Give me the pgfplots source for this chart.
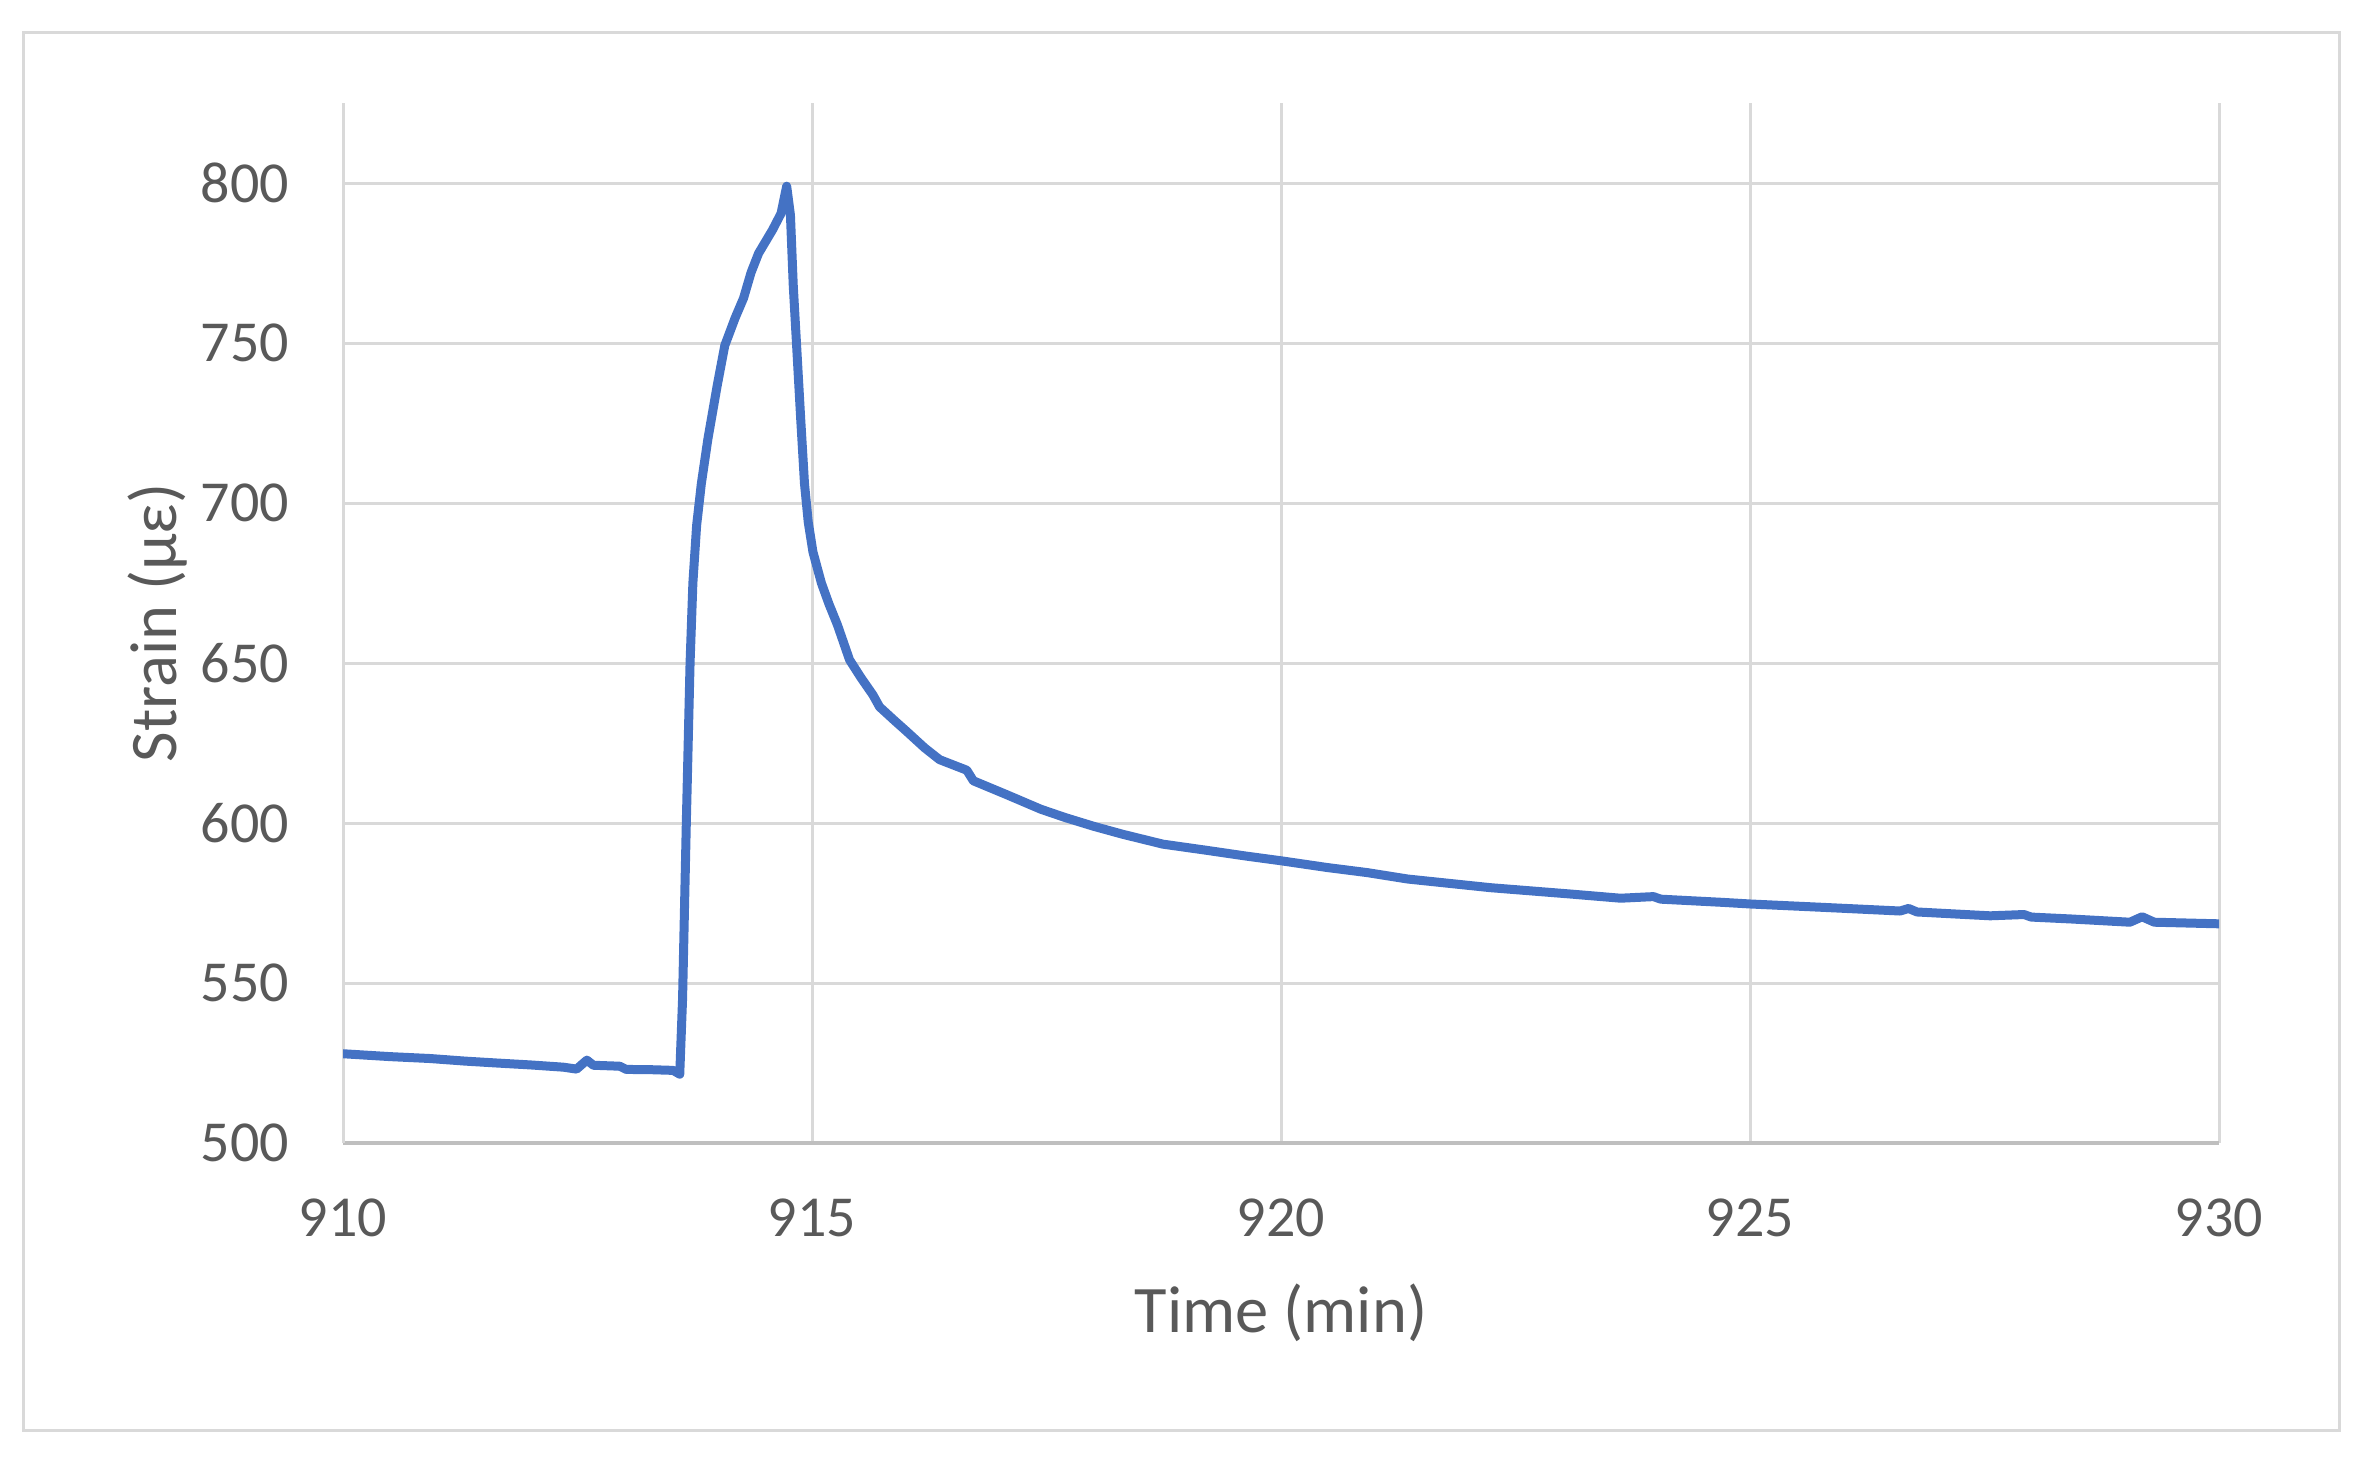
\documentclass[border=0pt]{standalone}
\usepackage{fontspec}
\setmainfont{Carlito}
\usepackage{pgfplots}
\pgfplotsset{compat=1.18}
\usepackage{pgfplotstable}
\definecolor{labelgray}{HTML}{595959}
\definecolor{gridgray}{HTML}{D9D9D9}
\definecolor{axisgray}{HTML}{BFBFBF}
\definecolor{linecol}{HTML}{4472C4}
\pgfplotstableread{
t s
910.00 527.9
910.50 527.0
910.93 526.4
911.30 525.6
911.64 525.0
912.00 524.4
912.35 523.7
912.49 523.1
912.60 525.9
912.67 524.3
912.95 524.0
913.02 523.0
913.30 522.9
913.52 522.7
913.59 521.5
913.62 545.0
913.66 600.0
913.70 650.0
913.73 675.0
913.77 693.0
913.82 706.0
913.89 720.0
913.99 736.8
914.07 749.2
914.18 757.8
914.27 764.0
914.35 772.0
914.43 778.0
914.58 785.4
914.67 790.5
914.73 799.0
914.77 790.0
914.80 768.0
914.84 747.0
914.88 726.0
914.92 706.0
914.96 694.0
915.01 684.7
915.10 675.0
915.18 668.5
915.27 662.0
915.40 651.0
915.52 645.5
915.65 640.0
915.72 636.3
915.88 632.0
916.01 628.6
916.20 623.5
916.36 619.8
916.65 616.5
916.72 613.2
917.08 608.8
917.44 604.3
917.70 601.7
918.00 599.0
918.31 596.5
918.74 593.4
919.20 591.5
919.62 589.7
920.00 588.2
920.49 586.1
920.92 584.5
921.35 582.5
922.23 579.8
923.09 577.8
923.62 576.5
923.97 577.0
924.05 576.2
924.71 575.2
925.00 574.7
925.81 573.6
926.60 572.5
926.69 573.3
926.78 572.2
927.56 571.0
927.92 571.4
928.00 570.6
928.43 570.0
929.05 569.0
929.18 570.7
929.31 569.0
930.00 568.5
}\straindata
\begin{document}
\begin{tikzpicture}
\useasboundingbox (0,0) rectangle (472.6pt,292.6pt);
\draw[gridgray, line width=0.6pt] (4.6pt,6.6pt) rectangle (467.8pt,286pt);
\begin{axis}[
  at={(68.6pt,64pt)}, anchor=south west,
  scale only axis, width=375.2pt, height=208pt,
  xmin=910, xmax=930, ymin=500, ymax=825,
  xtick={910,915,920,925,930},
  ytick={500,550,600,650,700,750,800},
  axis lines*=left,
  x axis line style={draw=axisgray, line width=0.8pt},
  y axis line style={draw=gridgray, line width=0.6pt},
  grid=major,
  major grid style={draw=gridgray, line width=0.6pt},
  major tick length=0pt,
  /pgf/number format/assume math mode=true,
  /pgf/number format/1000 sep={},
  xticklabel style={font=\fontsize{11.6}{14}\selectfont, text=labelgray, inner sep=0pt, anchor=north, yshift=-11pt},
  yticklabel style={font=\fontsize{11.6}{14}\selectfont, text=labelgray, inner sep=0pt, anchor=east, xshift=-10.6pt},
  xlabel={Time (min)},
  ylabel={Strain (με)},
  xlabel style={font=\fontsize{13.3}{16}\selectfont, text=labelgray, inner sep=0pt, at={(axis description cs:0.5,-0.1822)}, anchor=base},
  ylabel style={font=\fontsize{13.3}{16}\selectfont, text=labelgray, inner sep=0pt, at={(axis description cs:-0.0885,0.5)}, anchor=base, rotate=0},
]
\addplot[linecol, line width=1.8pt, line join=round, line cap=round, mark=none] table[x=t, y=s] {\straindata};
\end{axis}
\end{tikzpicture}
\end{document}
